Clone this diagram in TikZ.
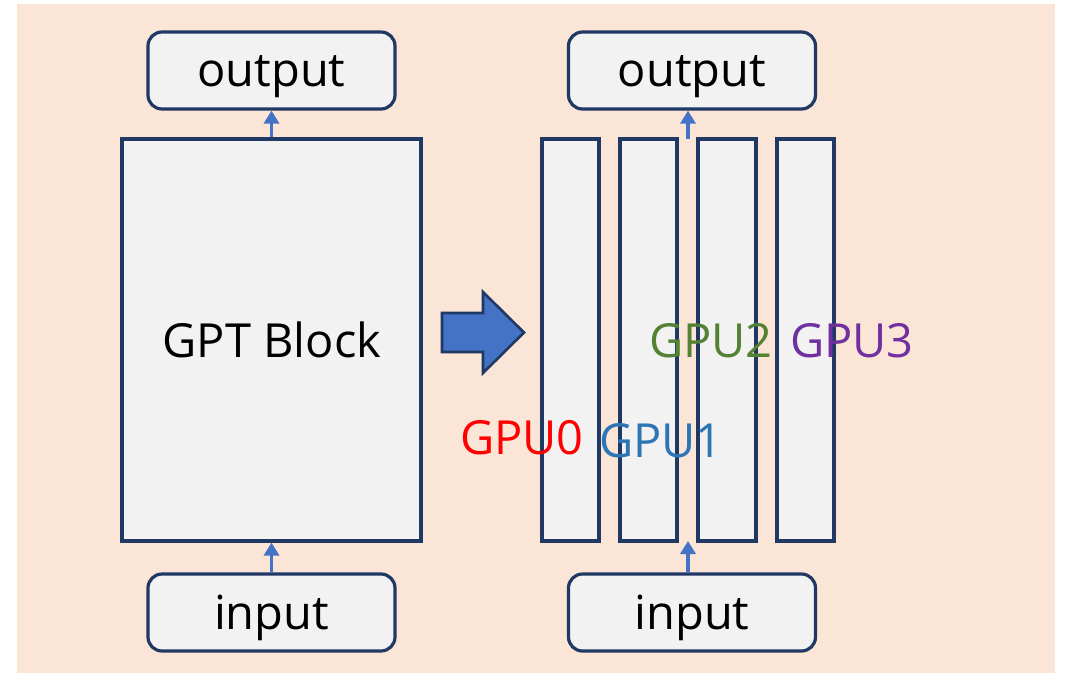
\documentclass[tikz,border=0pt]{standalone}
\usepackage{fontspec}
\setmainfont{Open Sans}
\usetikzlibrary{arrows.meta}
\definecolor{bgpeach}{HTML}{FBE5D6}
\definecolor{boxfill}{HTML}{F2F2F2}
\definecolor{navy}{HTML}{1F3864}
\definecolor{arrblue}{HTML}{4472C4}
\definecolor{gblue}{HTML}{2E75B6}
\definecolor{ggreen}{HTML}{548235}
\definecolor{gpurple}{HTML}{7030A0}
\tikzset{
  rbox/.style={draw=navy, line width=3.2pt, fill=boxfill, rounded corners=14pt, inner sep=0pt, minimum width=247pt, minimum height=77pt},
  sbox/.style={draw=navy, line width=3.2pt, fill=boxfill, inner sep=0pt},
  lbl/.style={font=\fontsize{47}{50}\selectfont, inner sep=0pt},
  conn/.style={draw=arrblue, line width=3.2pt, -{Triangle[width=15pt,length=13pt]}},
}
\begin{document}
\begin{tikzpicture}[x=1pt,y=-1pt]
\useasboundingbox (0,0) rectangle (1066,673);
\fill[bgpeach] (17,4) rectangle (1055,673);
% left side
\node[rbox] (lout) at (271.5,70.5) {};
\node[rbox] (lin) at (271.5,612.5) {};
\node[sbox, minimum width=299pt, minimum height=402pt] (gpt) at (271.5,340) {};
\node[lbl, anchor=base] (gpttxt) at (272,357) {GPT Block};
\node[lbl, anchor=base] (louttxt) at (271.5,86) {output};
\node[lbl, anchor=base] (lintxt) at (271.5,629) {input};
\draw[conn] (gpt.north) -- (lout.south);
\draw[conn] (lin.north) -- (gpt.south);
% block arrow
\filldraw[draw=navy, line width=2.6pt, fill=arrblue, line join=miter]
  (442,313) -- (483,313) -- (483,292) -- (524,332.5) -- (483,373) -- (483,352) -- (442,352) -- cycle;
% right side
\node[rbox] (rout) at (692,70.5) {};
\node[rbox] (rin) at (692,612.5) {};
\node[sbox, minimum width=57pt, minimum height=402pt] (c0) at (570.5,340) {};
\node[sbox, minimum width=57pt, minimum height=402pt] (c1) at (648.5,340) {};
\node[sbox, minimum width=58pt, minimum height=402pt] (c2) at (727,340) {};
\node[sbox, minimum width=57pt, minimum height=402pt] (c3) at (805.5,340) {};
\node[lbl, anchor=base] (routtxt) at (692,86) {output};
\node[lbl, anchor=base] (rintxt) at (692,629) {input};
\coordinate (rtop) at (688,139);
\coordinate (rbot) at (688,541);
\draw[conn] (rtop) -- (rout.south -| rtop);
\draw[conn] (rin.north -| rbot) -- (rbot);
% GPU labels
\node[lbl, text=red] (g0) at (522,438) {GPU0};
\node[lbl, text=gblue] (g1) at (661,441) {GPU1};
\node[lbl, text=ggreen] (g2) at (711,341) {GPU2};
\node[lbl, text=gpurple] (g3) at (852,341) {GPU3};
\end{tikzpicture}
\end{document}
